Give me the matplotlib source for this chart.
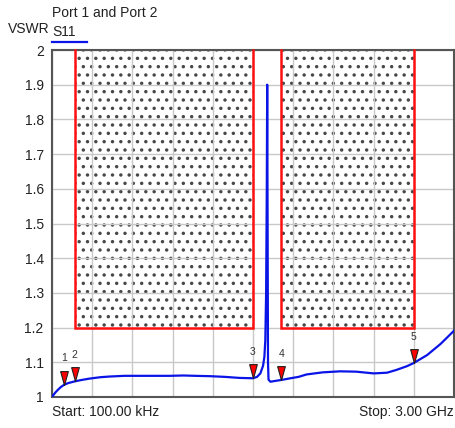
import matplotlib
matplotlib.use("Agg")
import matplotlib.pyplot as plt
from matplotlib.patches import Rectangle

plt.rcParams['font.family'] = ['Liberation Sans', 'DejaVu Sans']
plt.rcParams['hatch.color'] = '#484848'
plt.rcParams['hatch.linewidth'] = 1.25

# ---- data (frequency in GHz, VSWR) ----
freq = [0.0001, 0.015, 0.03, 0.045, 0.067, 0.09, 0.12, 0.17, 0.22, 0.28,
        0.36, 0.43, 0.54, 0.66, 0.77, 0.88, 0.98, 1.07, 1.18, 1.29,
        1.40, 1.50, 1.53, 1.555, 1.575, 1.585, 1.592, 1.598, 1.603, 1.606,
        1.609, 1.612, 1.616, 1.63, 1.66, 1.71, 1.78, 1.84, 1.90, 2.02,
        2.15, 2.27, 2.40, 2.50, 2.57, 2.65, 2.70, 2.80, 2.90, 3.00]
vswr = [1.000, 1.008, 1.015, 1.021, 1.029, 1.035, 1.040, 1.045, 1.049, 1.053,
        1.057, 1.059, 1.061, 1.061, 1.061, 1.061, 1.062, 1.061, 1.060, 1.058,
        1.055, 1.054, 1.058, 1.068, 1.090, 1.116, 1.164, 1.300, 1.600, 1.900,
        1.500, 1.100, 1.050, 1.044, 1.046, 1.049, 1.054, 1.058, 1.065, 1.071,
        1.074, 1.073, 1.068, 1.070, 1.078, 1.089, 1.098, 1.121, 1.153, 1.191]

marker_ids = ['1', '2', '3', '4', '5']
marker_freq = [0.09, 0.17, 1.50, 1.71, 2.70]
marker_vswr = [1.035, 1.045, 1.054, 1.049, 1.098]

# limit mask regions (start GHz, stop GHz) with lower limit
limit_regions = [(0.17, 1.50), (1.71, 2.70)]
limit_low = 1.2

y_ticks = [1, 1.1, 1.2, 1.3, 1.4, 1.5, 1.6, 1.7, 1.8, 1.9, 2]
y_labels = ['1', '1.1', '1.2', '1.3', '1.4', '1.5', '1.6', '1.7', '1.8', '1.9', '2']
f_start, f_stop = 0.0001, 3.0
y_min, y_max = 1.0, 2.0

fig = plt.figure(figsize=(4.56, 4.28), dpi=100)
ax = fig.add_axes([52/456, 1 - 397/428, 402/456, 347/428])
ax.set_xlim(f_start, f_stop)
ax.set_ylim(y_min, y_max)

# grid
ax.set_xticks([f_start + i * (f_stop - f_start) / 10 for i in range(11)])
ax.set_xticklabels([])
ax.set_yticks(y_ticks)
ax.set_yticklabels(y_labels, fontsize=10, color='#222222')
ax.tick_params(length=0, pad=6)
ax.grid(True, color='#c8c8c8', linewidth=1.0)
ax.set_axisbelow(True)
for s in ax.spines.values():
    s.set_color('#555555')
    s.set_linewidth(1.5)

# limit masks
for (a, b) in limit_regions:
    ax.add_patch(Rectangle((a, limit_low), b - a, y_max - limit_low,
                           facecolor=(1, 1, 1, 0), hatch='..', zorder=0.4,
                           linewidth=0))
    ax.plot([a, a, b, b], [y_max, limit_low, limit_low, y_max],
            color='#ff1010', linewidth=1.8, zorder=3, clip_on=False,
            solid_joinstyle='miter')

# trace
ax.plot(freq, vswr, color='#0a14e6', linewidth=1.6, zorder=4)

# markers
tri = [(-3.6, 13), (3.6, 13), (0, 0), (-3.6, 13)]
for mid, mf, mv in zip(marker_ids, marker_freq, marker_vswr):
    ax.plot([mf], [mv], marker=tri, markersize=20, markerfacecolor='#ff0000',
            markeredgecolor='#202020', markeredgewidth=0.8, linestyle='none',
            zorder=5)
    ax.annotate(mid, (mf, mv), xytext=(0, 19), textcoords='offset points',
                ha='center', va='center', fontsize=7.5, color='#333333',
                zorder=6)

# texts
fig.text(52/456, 1 - 13/428, 'Port 1 and Port 2', fontsize=10,
         ha='left', va='center', color='#222222')
fig.text(8/456, 1 - 29/428, 'VSWR', fontsize=10, ha='left', va='center',
         color='#222222')
fig.text(52/456, 1 - 32/428, 'S11', fontsize=10, ha='left', va='center',
         color='#222222')
fig.add_artist(plt.Line2D([52/456, 87/456], [1 - 42/428, 1 - 42/428],
                          color='#0a14e6', linewidth=1.6,
                          transform=fig.transFigure))
fig.text(52/456, 1 - 412/428, 'Start: 100.00 kHz', fontsize=10,
         ha='left', va='center', color='#222222')
fig.text(454/456, 1 - 412/428, 'Stop: 3.00 GHz', fontsize=10,
         ha='right', va='center', color='#222222')

fig.savefig('out.png', dpi=100)
